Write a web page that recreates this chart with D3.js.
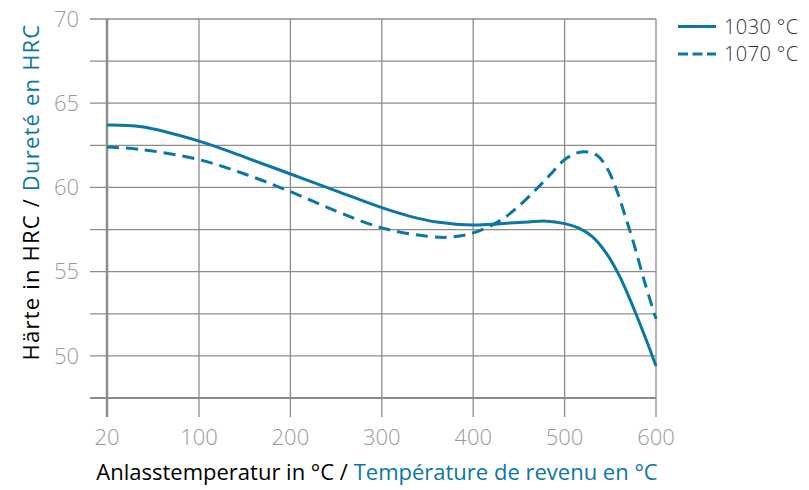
<!DOCTYPE html>
<html>
<head>
<meta charset="utf-8">
<script src="https://cdn.jsdelivr.net/npm/d3@7"></script>
<style>
  html, body { margin: 0; padding: 0; background: #fff; }
  svg text { font-family: "Open Sans", Lato, sans-serif; }
</style>
</head>
<body>
<svg id="chart" width="809" height="490"></svg>
<script>
// Tempering temperature (°C) and hardness (HRC)
const xTicks = [20, 100, 200, 300, 400, 500, 600];
const yTicks = [50, 55, 60, 65, 70];
const yGrid = [47.5, 50, 52.5, 55, 57.5, 60, 62.5, 65, 67.5, 70];

const temp1030 = [20, 50, 100, 150, 200, 250, 300, 330, 360, 400, 430, 460, 480, 500, 515, 530, 545, 560, 575, 590, 600];
const hrc1030  = [63.7, 63.6, 62.75, 61.8, 60.8, 59.8, 58.8, 58.3, 57.95, 57.77, 57.85, 57.95, 58.0, 57.85, 57.6, 57.1, 56.15, 54.75, 52.9, 50.85, 49.4];

const temp1070 = [20, 50, 100, 150, 200, 250, 300, 350, 375, 400, 430, 450, 470, 485, 502, 520, 535, 547, 557, 566, 575, 588, 600];
const hrc1070  = [62.4, 62.25, 61.65, 60.8, 59.75, 58.6, 57.6, 57.1, 57.05, 57.3, 58.05, 58.9, 59.95, 60.8, 61.73, 62.12, 61.92, 61.1, 59.84, 58.35, 56.8, 54.3, 52.2];

const seriesNames = ["1030 °C", "1070 °C"];

const blue = "#0a77a6";
const gridColor = "#8c8c8c";

const svg = d3.select("#chart");

// 20 °C sits at the left edge, the rest of the axis is evenly spaced by 100
const x = d3.scaleLinear().domain([20, 100, 600]).range([107, 199, 656]);
const y = d3.scaleLinear().domain([47.5, 70]).range([398, 19]);

const plotTop = y(70), plotBottom = y(47.5);

// horizontal grid lines (extend left past the axis)
svg.append("g").selectAll("line").data(yGrid).join("line")
  .attr("x1", 90).attr("x2", x(600))
  .attr("y1", d => y(d)).attr("y2", d => y(d))
  .attr("stroke", gridColor).attr("stroke-width", d => d === 47.5 ? 2 : 1.3);

// vertical grid lines (extend below the axis as ticks)
svg.append("g").selectAll("line").data(xTicks).join("line")
  .attr("x1", d => x(d)).attr("x2", d => x(d))
  .attr("y1", plotTop).attr("y2", plotBottom + 19)
  .attr("stroke", gridColor).attr("stroke-width", d => d === 20 ? 2.5 : 1.3);

// y tick labels
svg.append("g").selectAll("text").data(yTicks).join("text")
  .attr("x", 79).attr("y", d => y(d)).attr("dy", "0.35em")
  .attr("text-anchor", "end").attr("font-size", 22).attr("font-weight", 300).attr("fill", "#9a9a9a")
  .text(d => d);

// x tick labels
svg.append("g").selectAll("text").data(xTicks).join("text")
  .attr("x", d => x(d)).attr("y", 437).attr("dy", "0.35em")
  .attr("text-anchor", "middle").attr("font-size", 22).attr("font-weight", 300).attr("fill", "#9a9a9a")
  .text(d => d);

// curves
const line = d3.line().x(d => x(d[0])).y(d => y(d[1])).curve(d3.curveCatmullRom.alpha(0.5));
const s1030 = temp1030.map((t, i) => [t, hrc1030[i]]);
const s1070 = temp1070.map((t, i) => [t, hrc1070[i]]);

svg.append("path").datum(s1070).attr("d", line)
  .attr("fill", "none").attr("stroke", blue).attr("stroke-width", 3)
  .attr("stroke-dasharray", "12,7");
svg.append("path").datum(s1030).attr("d", line)
  .attr("fill", "none").attr("stroke", blue).attr("stroke-width", 3);

// axis titles
const xt = svg.append("text").attr("x", 377).attr("y", 480)
  .attr("text-anchor", "middle").attr("font-size", 22).attr("font-weight", 500);
xt.append("tspan").attr("fill", "#000").text("Anlasstemperatur in °C / ");
xt.append("tspan").attr("fill", blue).text("Température de revenu en °C");

const yt = svg.append("text").attr("transform", "translate(39,192) rotate(-90)")
  .attr("text-anchor", "middle").attr("font-size", 22).attr("font-weight", 500)
  .attr("letter-spacing", 1.2);
yt.append("tspan").attr("fill", "#000").text("Härte in HRC / ");
yt.append("tspan").attr("fill", blue).text("Dureté en HRC");

// legend
const legend = svg.append("g").selectAll("g").data(seriesNames).join("g")
  .attr("transform", (d, i) => `translate(678,${26.5 + i * 27.5})`);
legend.append("line").attr("x1", 0).attr("x2", 38).attr("y1", 0).attr("y2", 0)
  .attr("stroke", blue).attr("stroke-width", 3)
  .attr("stroke-dasharray", (d, i) => i === 1 ? "10,4.5" : null);
legend.append("text").attr("x", 46).attr("dy", "0.35em")
  .attr("font-size", 20).attr("font-weight", 300).attr("fill", "#333")
  .attr("letter-spacing", 0.4).text(d => d);
</script>
</body>
</html>
